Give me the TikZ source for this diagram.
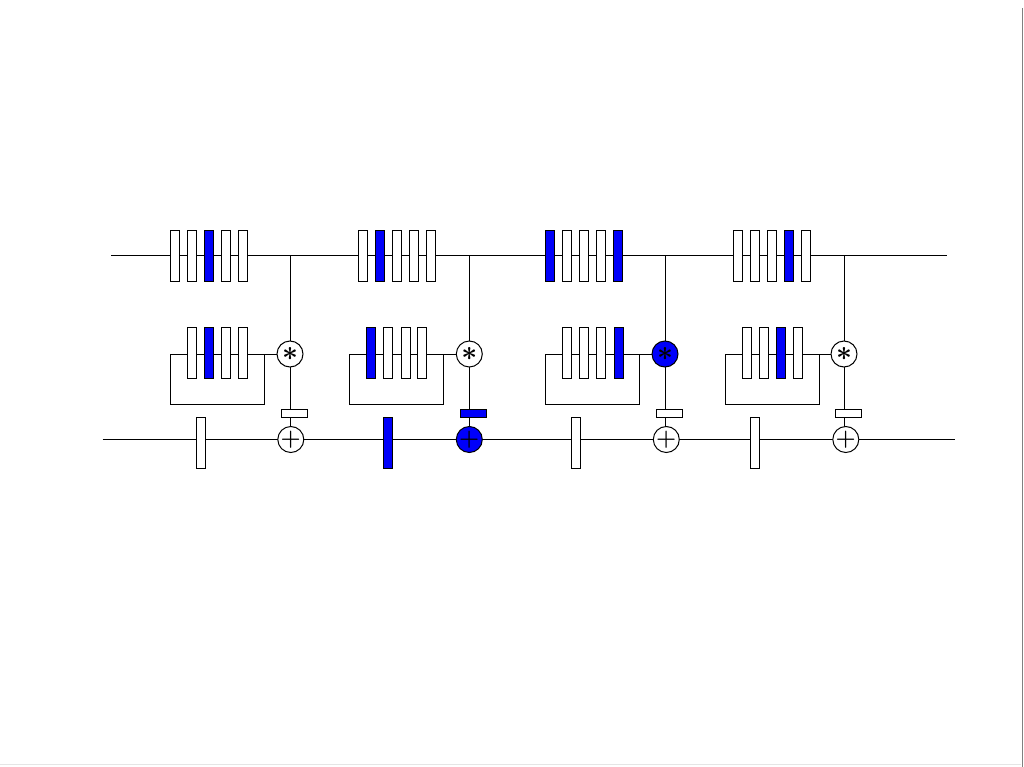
\documentclass[tikz,border=0pt]{standalone}
\usetikzlibrary{backgrounds}
\definecolor{barblue}{RGB}{0,0,250}
\tikzset{
  wire/.style={line width=0.75pt, black},
  bar/.style={draw=black, line width=0.75pt, fill=white, minimum width=6.75pt, minimum height=38.25pt, inner sep=0pt, outer sep=0pt},
  bbar/.style={bar, fill=barblue},
  opnode/.style={circle, draw=black, line width=0.75pt, fill=white, minimum size=19.5pt, inner sep=0pt, outer sep=0pt},
  bopnode/.style={opnode, fill=barblue},
  sym/.style={inner sep=0pt, outer sep=0pt, font=\huge\boldmath},
  psym/.style={inner sep=0pt, outer sep=0pt, font=\LARGE\boldmath},
  tab/.style={draw=black, line width=0.75pt, fill=white, minimum width=19.5pt, minimum height=6pt, inner sep=0pt, outer sep=0pt},
  btab/.style={tab, fill=barblue},
}
\begin{document}
\begin{tikzpicture}[x=0.75pt,y=-0.75pt]
\useasboundingbox (0,0) rectangle (1024,767);
% page edge lines
\draw[line width=0.8pt, black!50] (1022.5,8) coordinate (e1) -- (1022.5,767) coordinate (e2);
\draw[line width=0.5pt, black!10] (0,764.5) coordinate (e3) -- (1021,764.5) coordinate (e4);

% main lines end points
\coordinate (tl) at (111,255);
\coordinate (tr) at (947,255);
\coordinate (bl) at (102.7,439);
\coordinate (br) at (955,439);
\coordinate (j1) at (290,255);
\coordinate (j2) at (469.3,255);
\coordinate (j3) at (665,255);
\coordinate (j4) at (844,255);

% top bars
\foreach \x/\s [count=\i] in {175/bar,192/bar,209/bbar,226/bar,243/bar,
  362.5/bar,379.5/bbar,396.5/bar,413.5/bar,430.5/bar,
  550.2/bbar,567.2/bar,584.2/bar,601.2/bar,618.4/bbar,
  737.8/bar,754.8/bar,771.8/bar,788.8/bbar,805.8/bar}
  \node[\s] (t\i) at (\x,255.5) {};

% lower (loop) bars
\foreach \x/\s [count=\i] in {191.8/bar,208.8/bbar,225.8/bar,243.2/bar,
  371.2/bbar,388.2/bar,405.5/bar,422.2/bar,
  567.2/bar,584.2/bar,601.2/bar,618.5/bbar,
  746.5/bar,763.5/bar,780.5/bbar,797.5/bar}
  \node[\s] (m\i) at (\x,353.3) {};

% bottom bars
\node[bar]  (b1) at (200.8,442.8) {};
\node[bbar] (b2) at (388.2,442.8) {};
\node[bar]  (b3) at (575.8,442.8) {};
\node[bar]  (b4) at (754.8,442.8) {};

% asterisk nodes
\node[opnode]  (a1) at (290,354) {};
\node[opnode]  (a2) at (469.3,354) {};
\node[bopnode] (a3) at (665,354) {};
\node[opnode]  (a4) at (844,354) {};

% small tabs
\node[tab]  (s1) at (294,413) {};
\node[btab] (s2) at (473.7,413) {};
\node[tab]  (s3) at (669.7,413) {};
\node[tab]  (s4) at (848.5,413) {};

% plus nodes
\node[opnode]  (p1) at (290.8,439.5) {};
\node[bopnode] (p2) at (469.3,439.5) {};
\node[opnode]  (p3) at (666.3,439.5) {};
\node[opnode]  (p4) at (845.8,439.5) {};

% symbols
\foreach \k in {1,2,3,4}{
  \node[sym] (a\k s) at (a\k) {$\ast$};
  \node[psym] (p\k s) at (p\k) {$+$};
}

% loop corners
\coordinate (r1a) at (264,354); \coordinate (r1b) at (264,404); \coordinate (r1c) at (170.3,404); \coordinate (r1d) at (170.3,354);
\coordinate (r2a) at (443.3,354); \coordinate (r2b) at (443.3,404); \coordinate (r2c) at (349.3,404); \coordinate (r2d) at (349.3,354);
\coordinate (r3a) at (639.3,354); \coordinate (r3b) at (639.3,404); \coordinate (r3c) at (545.7,404); \coordinate (r3d) at (545.7,354);
\coordinate (r4a) at (819,354); \coordinate (r4b) at (819,404); \coordinate (r4c) at (725,404); \coordinate (r4d) at (725,354);

\begin{pgfonlayer}{background}
  \draw[wire] (tl) -- (tr);
  \draw[wire] (bl) -- (br);
  \foreach \k in {1,2,3,4}{
    \draw[wire] (j\k) -- (a\k.north);
    \draw[wire] (a\k.south) -- (a\k.south |- p\k.north);
    \draw[wire] (a\k.west) -- (r\k a) -- (r\k b) -- (r\k c) -- (r\k d) -- (r\k a);
  }
\end{pgfonlayer}
\end{tikzpicture}
\end{document}
